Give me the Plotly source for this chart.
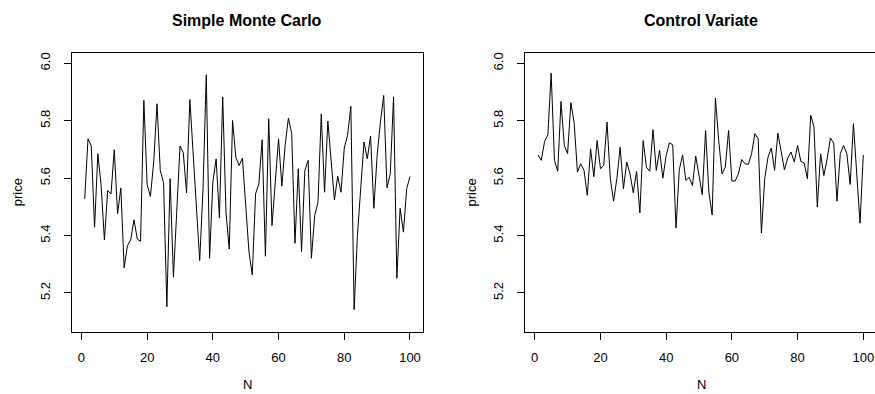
import plotly.graph_objects as go

N = list(range(1, 101))

simple_mc = [
    5.528, 5.737, 5.712, 5.429, 5.685, 5.574, 5.385, 5.557, 5.545, 5.699,
    5.476, 5.566, 5.288, 5.365, 5.385, 5.455, 5.388, 5.380, 5.871, 5.578,
    5.536, 5.656, 5.859, 5.627, 5.584, 5.152, 5.598, 5.255, 5.481, 5.712,
    5.688, 5.549, 5.874, 5.690, 5.505, 5.313, 5.560, 5.960, 5.321, 5.586,
    5.667, 5.462, 5.883, 5.480, 5.353, 5.801, 5.673, 5.644, 5.670, 5.500,
    5.342, 5.263, 5.545, 5.580, 5.734, 5.328, 5.807, 5.435, 5.586, 5.737,
    5.572, 5.714, 5.809, 5.755, 5.373, 5.633, 5.344, 5.627, 5.662, 5.321,
    5.470, 5.516, 5.824, 5.551, 5.799, 5.667, 5.524, 5.607, 5.551, 5.705,
    5.749, 5.850, 5.142, 5.400, 5.550, 5.726, 5.667, 5.747, 5.495, 5.679,
    5.795, 5.888, 5.566, 5.615, 5.883, 5.251, 5.495, 5.412, 5.563, 5.606,
]

control_variate = [
    5.681, 5.662, 5.728, 5.751, 5.966, 5.662, 5.624, 5.867, 5.714, 5.685,
    5.863, 5.793, 5.621, 5.650, 5.627, 5.540, 5.702, 5.605, 5.731, 5.633,
    5.644, 5.795, 5.598, 5.520, 5.598, 5.708, 5.563, 5.656, 5.615, 5.549,
    5.623, 5.479, 5.731, 5.638, 5.624, 5.769, 5.627, 5.697, 5.600, 5.679,
    5.723, 5.716, 5.426, 5.629, 5.681, 5.592, 5.603, 5.574, 5.677, 5.609,
    5.542, 5.766, 5.551, 5.472, 5.879, 5.730, 5.615, 5.638, 5.766, 5.590,
    5.590, 5.615, 5.665, 5.650, 5.648, 5.685, 5.755, 5.737, 5.409, 5.598,
    5.673, 5.705, 5.627, 5.757, 5.685, 5.629, 5.670, 5.691, 5.656, 5.714,
    5.658, 5.653, 5.598, 5.819, 5.778, 5.499, 5.685, 5.609, 5.667, 5.740,
    5.722, 5.520, 5.685, 5.714, 5.685, 5.578, 5.790, 5.620, 5.443, 5.681,
]

titles = ["Simple Monte Carlo", "Control Variate"]
x_ticks = [0, 20, 40, 60, 80, 100]
y_ticks = [5.2, 5.4, 5.6, 5.8, 6.0]

W, H = 875, 394
FONT = "Liberation Sans, Arial, Helvetica, sans-serif"

# pixel geometry
left_box = (71.7, 423.0)
right_box = (525.0, 875.0)
top_px, bot_px = 53.0, 332.0
scale = (left_box[1] - left_box[0]) / 106.92
x0 = -2.96
xr_left = [x0, x0 + (left_box[1] - left_box[0]) / scale]
xr_right = [x0, x0 + (right_box[1] - right_box[0]) / scale]
yr = [5.064, 6.036]

ydom = [(H - bot_px) / H, (H - top_px) / H]

fig = go.Figure()
fig.add_trace(go.Scatter(x=N, y=simple_mc, mode="lines",
                         line=dict(color="black", width=1), xaxis="x", yaxis="y",
                         showlegend=False, hoverinfo="skip"))
fig.add_trace(go.Scatter(x=N, y=control_variate, mode="lines",
                         line=dict(color="black", width=1), xaxis="x2", yaxis="y2",
                         showlegend=False, hoverinfo="skip"))

common_x = dict(tickmode="array", tickvals=x_ticks, ticktext=[str(v) for v in x_ticks],
                ticks="outside", ticklen=7, tickcolor="black", tickwidth=1,
                showline=True, linecolor="black", linewidth=1, mirror=True,
                showgrid=False, zeroline=False, ticklabelstandoff=6,
                tickfont=dict(family=FONT, size=13, color="black"))
common_y = dict(tickmode="array", tickvals=y_ticks, ticktext=[f"{v:.1f}" for v in y_ticks],
                ticks="outside", ticklen=7, tickcolor="black", tickwidth=1,
                showline=True, linecolor="black", linewidth=1,
                showgrid=False, zeroline=False, tickangle=-90, ticklabelstandoff=9,
                tickfont=dict(family=FONT, size=13, color="black"), domain=ydom)

fig.update_layout(
    width=W, height=H, autosize=False,
    margin=dict(l=0, r=0, t=0, b=0),
    paper_bgcolor="white", plot_bgcolor="white",
    xaxis=dict(common_x, domain=[left_box[0] / W, left_box[1] / W], range=xr_left, anchor="y"),
    yaxis=dict(common_y, range=yr, anchor="x", mirror=True),
    xaxis2=dict(common_x, domain=[right_box[0] / W, 1.0], range=xr_right, anchor="y2"),
    yaxis2=dict(common_y, range=yr, anchor="x2", mirror=False),
)

annotations = []
for (bx0, bx1), t in [((left_box[0], 423.0), titles[0]), ((525.0, 877.0), titles[1])]:
    cx = (bx0 + bx1) / 2
    annotations.append(dict(text=f"<b>{t}</b>", x=cx / W, y=1 - 20 / H, xref="paper", yref="paper",
                            xanchor="center", yanchor="middle", showarrow=False,
                            font=dict(family=FONT, size=16, color="black")))
    annotations.append(dict(text="N", x=cx / W, y=0.0, xref="paper", yref="paper",
                            xanchor="center", yanchor="bottom", showarrow=False,
                            font=dict(family=FONT, size=13, color="black")))
    annotations.append(dict(text="price", x=(bx0 - 54) / W, y=1 - ((top_px + bot_px) / 2) / H,
                            xref="paper", yref="paper", textangle=-90,
                            xanchor="center", yanchor="middle", showarrow=False,
                            font=dict(family=FONT, size=13, color="black")))
fig.update_layout(annotations=annotations)

fig.write_html("out.html")
